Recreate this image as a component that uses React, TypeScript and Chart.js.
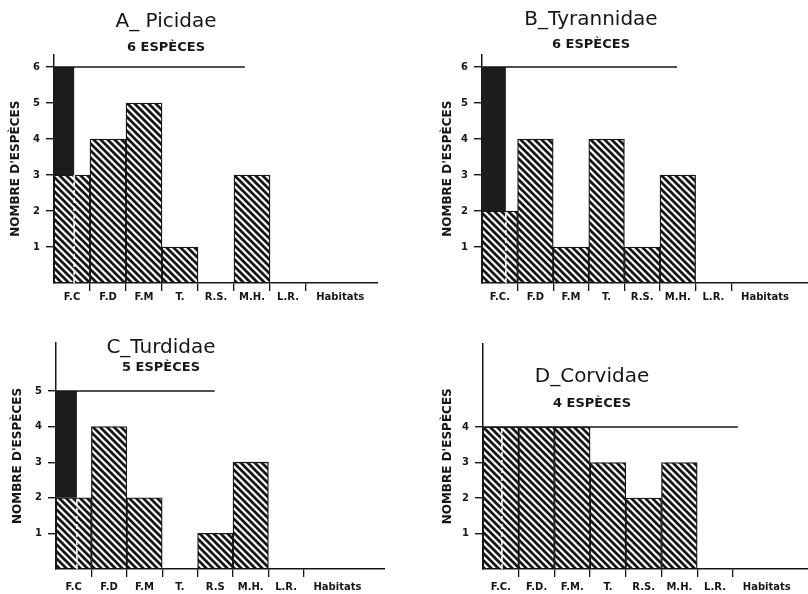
import React, { useEffect, useRef } from 'react';
import { Chart, registerables } from 'chart.js';

Chart.register(...registerables);

// ---------- data ----------
const TITLES = ['A_ Picidae', 'B_Tyrannidae', 'C_Turdidae', 'D_Corvidae'];
const TOTAL_SPECIES = [6, 6, 5, 4];
const SUBTITLE_WORD = 'ESPÈCES';
const Y_AXIS_TITLE = "NOMBRE D'ESPÈCES";
const X_AXIS_TITLE = 'Habitats';

const LABELS_A = ['F.C', 'F.D', 'F.M', 'T.', 'R.S.', 'M.H.', 'L.R.'];
const LABELS_B = ['F.C.', 'F.D', 'F.M', 'T.', 'R.S.', 'M.H.', 'L.R.'];
const LABELS_C = ['F.C', 'F.D', 'F.M', 'T.', 'R.S', 'M.H.', 'L.R.'];
const LABELS_D = ['F.C.', 'F.D.', 'F.M.', 'T.', 'R.S.', 'M.H.', 'L.R.'];

const VALUES_A = [3, 4, 5, 1, 0, 3, 0];
const VALUES_B = [2, 4, 1, 4, 1, 3, 0];
const VALUES_C = [2, 4, 2, 0, 1, 3, 0];
const VALUES_D = [4, 4, 4, 3, 2, 3, 0];

const LABELS = [LABELS_A, LABELS_B, LABELS_C, LABELS_D];
const VALUES = [VALUES_A, VALUES_B, VALUES_C, VALUES_D];

// ---------- layout / style (page pixels) ----------
const YMAX = 6.35;
const XH = 24; // x-axis box height
const LAYOUT = [
  { cx: -46, cy: 0, cw: 424, chartLeft: 54, bottom: 283, unitX: 36, unitY: 36, titleY: 22, subY: 47.5, yTitleX: 16, labelPad: 0, blackFrac: 0.56, lineEnd: 5.3 },
  { cx: 374, cy: 0, cw: 434, chartLeft: 482, bottom: 283, unitX: 35.6, unitY: 36, titleY: 19.5, subY: 44.5, yTitleX: 448, labelPad: 0, blackFrac: 0.67, lineEnd: 5.48 },
  { cx: -63, cy: 306, cw: 448, chartLeft: 56, bottom: 569, unitX: 35.4, unitY: 35.6, titleY: 347.5, subY: 368, yTitleX: 18, labelPad: 4, blackFrac: 0.59, lineEnd: 4.48 },
  { cx: 376, cy: 306, cw: 432, chartLeft: 483, bottom: 569, unitX: 35.7, unitY: 35.5, titleY: 376.5, subY: 404, yTitleX: 448, labelPad: 4, blackFrac: 0.53, lineEnd: 7.14 },
];

const INK = '#161616';
const FONT = "'DejaVu Sans', sans-serif";

function hatchPattern(): CanvasPattern | string {
  const s = 7;
  const c = document.createElement('canvas');
  c.width = s;
  c.height = s;
  const g = c.getContext('2d');
  if (!g) return INK;
  g.fillStyle = '#ffffff';
  g.fillRect(0, 0, s, s);
  g.strokeStyle = INK;
  g.lineWidth = 2.8;
  g.beginPath();
  for (const k of [-1, 0, 1]) {
    g.moveTo(-s, -s + k * s);
    g.lineTo(2 * s, 2 * s + k * s);
  }
  g.stroke();
  return g.createPattern(c, 'repeat') || INK;
}

function canvasHeight(i: number) {
  const L = LAYOUT[i];
  return L.bottom + XH - L.cy;
}

function makeChart(canvas: HTMLCanvasElement, i: number) {
  const L = LAYOUT[i];
  const labels = LABELS[i];
  const values = VALUES[i];
  const total = TOTAL_SPECIES[i];
  const n = labels.length;
  const habTick = n + 0.45;

  const yW = L.chartLeft - L.cx;
  const xMax = (L.cx + L.cw - L.chartLeft) / L.unitX;
  const top = L.bottom - YMAX * L.unitY;
  const H = top - L.cy;
  const tpt = L.titleY - L.cy - 12;
  const tpb = H - 24 - tpt;
  const spt = L.subY - top - 7.8;
  const spb = -15.6 - spt;
  const yTitlePad = L.yTitleX - L.cx - 7.2;

  const fc = values[0];

  const cfg: any = {
    type: 'bar',
    data: {
      datasets: [
        {
          type: 'line',
          order: 1,
          data: [
            { x: L.blackFrac, y: 0 },
            { x: L.blackFrac, y: fc },
          ],
          borderColor: '#ffffff',
          borderWidth: 1.6,
          borderDash: [5, 3],
          pointRadius: 0,
          tension: 0,
          fill: false,
        },
        {
          type: 'line',
          order: 2,
          data: [
            { x: 0, y: total },
            { x: L.lineEnd, y: total },
          ],
          borderColor: INK,
          borderWidth: 1.5,
          pointRadius: 0,
          tension: 0,
          fill: false,
        },
        {
          type: 'bar',
          order: 3,
          xAxisID: 'x2',
          grouped: false,
          data: [{ x: L.blackFrac / 2, y: [fc, total] }],
          backgroundColor: '#1c1c1c',
          borderWidth: 0,
          barPercentage: L.blackFrac,
          categoryPercentage: 1,
        },
        {
          type: 'bar',
          order: 4,
          xAxisID: 'x',
          grouped: false,
          data: values.map((v, k) => ({ x: k + 0.5, y: v })),
          backgroundColor: hatchPattern(),
          borderColor: INK,
          borderWidth: 1.3,
          borderSkipped: false,
          barThickness: L.unitX,
          barPercentage: 1,
          categoryPercentage: 1,
        },
      ],
    },
    options: {
      responsive: false,
      animation: false,
      events: [],
      layout: { padding: 0 },
      plugins: {
        legend: { display: false },
        tooltip: { enabled: false },
        title: {
          display: true,
          text: TITLES[i],
          color: INK,
          font: { family: FONT, size: 20, weight: 'normal' },
          padding: { top: tpt, bottom: tpb },
        },
        subtitle: {
          display: true,
          text: `${total} ${SUBTITLE_WORD}`,
          color: INK,
          font: { family: FONT, size: 13, weight: 'bold' },
          padding: { top: spt, bottom: spb },
        },
      },
      scales: {
        x: {
          type: 'linear',
          position: 'bottom',
          min: 0,
          max: xMax,
          bounds: 'data',
          offset: false,
          afterBuildTicks: (s: any) => {
            const t: number[] = [];
            for (let k = 0; k <= n; k++) t.push(k);
            t.push(habTick);
            s.ticks = t.map((v) => ({ value: v }));
          },
          afterFit: (s: any) => {
            s.height = XH;
          },
          grid: {
            offset: false,
            drawOnChartArea: false,
            drawTicks: true,
            tickLength: 8,
            lineWidth: 1.3,
            color: (c: any) =>
              c.tick && (c.tick.value === 0 || c.tick.value === habTick) ? 'rgba(0,0,0,0)' : INK,
          },
          border: { display: true, color: INK, width: 1.5 },
          ticks: {
            autoSkip: false,
            maxRotation: 0,
            minRotation: 0,
            padding: L.labelPad,
            labelOffset: L.unitX / 2,
            color: INK,
            font: { family: FONT, size: 10, weight: 'bold' },
            callback: (v: number) => {
              if (v === habTick) return X_AXIS_TITLE;
              if (Number.isInteger(v) && v < n) return labels[v];
              return '';
            },
          },
        },
        x2: {
          type: 'linear',
          position: 'top',
          min: 0,
          max: xMax,
          bounds: 'data',
          offset: false,
          afterBuildTicks: (s: any) => {
            const t: number[] = [];
            for (let k = 0; k <= Math.floor(xMax); k++) t.push(k);
            s.ticks = t.map((v) => ({ value: v }));
          },
          afterFit: (s: any) => {
            s.height = 0;
          },
          grid: { display: false, drawTicks: false, offset: false },
          border: { display: false },
          ticks: { display: false },
        },
        y: {
          type: 'linear',
          position: 'left',
          min: 0,
          max: YMAX,
          bounds: 'data',
          afterBuildTicks: (s: any) => {
            const t: number[] = [];
            for (let k = 1; k <= total; k++) t.push(k);
            s.ticks = t.map((v) => ({ value: v }));
          },
          afterFit: (s: any) => {
            s.width = yW;
          },
          grid: {
            drawOnChartArea: false,
            drawTicks: true,
            tickLength: 8,
            lineWidth: 1.4,
            color: INK,
          },
          border: { display: true, color: INK, width: 1.5 },
          ticks: {
            padding: 6,
            color: INK,
            font: { family: FONT, size: 10, weight: 'bold' },
            callback: (v: number) => String(v),
          },
          title: {
            display: true,
            text: Y_AXIS_TITLE,
            color: INK,
            font: { family: FONT, size: 12, weight: 'bold' },
            padding: { top: yTitlePad, bottom: 0 },
          },
        },
      },
    },
  };
  return new Chart(canvas, cfg);
}

function Panel({ index }: { index: number }) {
  const ref = useRef<HTMLCanvasElement | null>(null);
  useEffect(() => {
    if (!ref.current) return;
    const chart = makeChart(ref.current, index);
    return () => chart.destroy();
  }, [index]);
  const L = LAYOUT[index];
  const h = canvasHeight(index);
  return (
    <canvas
      ref={ref}
      width={L.cw}
      height={h}
      style={{ position: 'absolute', left: L.cx, top: L.cy, width: L.cw, height: h }}
    />
  );
}

export default function App() {
  return (
    <div
      style={{
        position: 'absolute',
        left: 0,
        top: 0,
        width: 808,
        height: 594,
        overflow: 'hidden',
        background: '#ffffff',
      }}
    >
      {TITLES.map((_, k) => (
        <Panel key={k} index={k} />
      ))}
    </div>
  );
}
